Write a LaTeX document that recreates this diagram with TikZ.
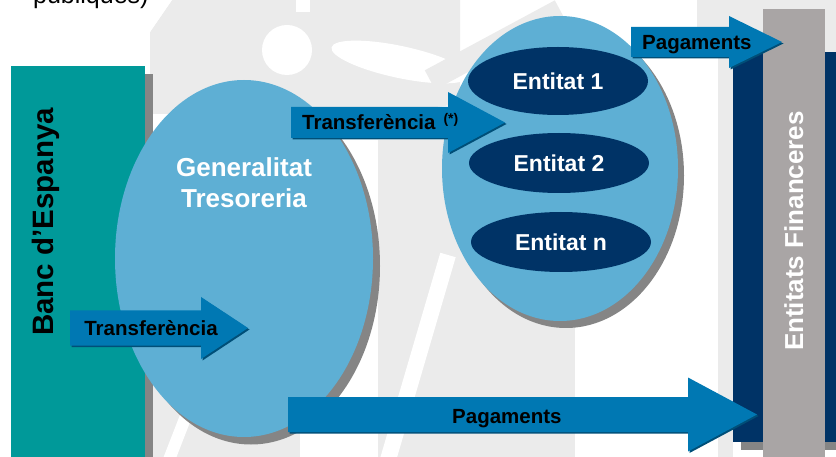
\documentclass[tikz,border=0pt]{standalone}
\usepackage{fontspec}
\setmainfont{Liberation Sans}
\usetikzlibrary{shapes.geometric}

\definecolor{bancteal}{HTML}{009999}
\definecolor{tresblue}{HTML}{5EAFD4}
\definecolor{entnavy}{HTML}{003366}
\definecolor{flowblue}{HTML}{0078B3}
\definecolor{flowdark}{HTML}{004F78}
\definecolor{shadegray}{HTML}{858585}
\definecolor{fingray}{HTML}{A9A5A5}
\definecolor{wmarkgray}{HTML}{EBEBEB}

% block arrow: left x, neck x, tip x, mid y, half body, half head
\newcommand{\flowarrow}[6]{%
  \foreach \sh/\col in {1.5/flowdark,0/flowblue}
    \fill[\col] ({#1+\sh},{#4-#5+\sh}) -- ({#2+\sh},{#4-#5+\sh}) -- ({#2+\sh},{#4-#6+\sh})
      -- ({#3+\sh},{#4+\sh}) -- ({#2+\sh},{#4+#6+\sh}) -- ({#2+\sh},{#4+#5+\sh})
      -- ({#1+\sh},{#4+#5+\sh}) -- cycle;
}

\begin{document}
\begin{tikzpicture}[x=1pt, y=-1pt,
    flowtext/.style={font=\bfseries\fontsize{20.5}{24}\selectfont, inner sep=0pt},
    sidetitle/.style={font=\bfseries\fontsize{29.5}{34}\selectfont, inner sep=0pt, rotate=90, anchor=base},
    entity/.style={ellipse, fill=entnavy, text=white, inner sep=0pt, minimum width=180pt,
      font=\bfseries\fontsize{23}{27}\selectfont}]
  \clip (0,0) rectangle (836,457);

  % watermark
  \fill[wmarkgray] (150,32) -- (172,0) -- (460,0) -- (460,104) -- (380,114) -- (150,114) -- cycle;
  \fill[white] (287,50) circle (25);
  \fill[white, rotate around={-12:(400,62)}] (400,62) ellipse [x radius=70, y radius=16];
  \fill[white] (296,0) rectangle (310,12);
  \fill[white] (140,0) -- (172,0) -- (150,32) -- (140,32) -- cycle;
  \draw[wmarkgray, line width=22pt] (430,80) -- (560,10);
  \fill[wmarkgray] (378,140) rectangle (575,457);
  \draw[white, line width=16pt] (385,470) -- (448,255);
  \fill[wmarkgray] (153,360) rectangle (300,457);
  \draw[white, line width=12pt] (165,470) -- (200,380);
  \fill[wmarkgray] (718,0) rectangle (733,457);
  \fill[wmarkgray] (697,0) rectangle (836,52);

  % Banc d'Espanya
  \fill[shadegray] (19,74) rectangle (153,465);
  \node[fill=bancteal, minimum width=134pt, minimum height=391pt, inner sep=0pt, anchor=north west] (banc) at (11,66) {};
  \node[sidetitle] (bancTxt) at (53,222) {Banc d’Espanya};

  % Generalitat
  \fill[shadegray] (251,266) ellipse [x radius=129, y radius=178.5];
  \node[ellipse, fill=tresblue, minimum width=258pt, minimum height=357pt, inner sep=0pt] (gen) at (244,258.5) {};
  \node[font=\bfseries\fontsize{26}{31}\selectfont, text=white, align=center, anchor=north, inner sep=0pt] (genTxt) at (244,157) {Generalitat\\Tresoreria};

  % Entitats Financeres
  \fill[shadegray] (741,60) rectangle (844,450);
  \fill[entnavy] (733,52) rectangle (836,442);
  \node[fill=fingray, minimum width=62pt, minimum height=448pt, inner sep=0pt, anchor=north west] (fin) at (763,9) {};
  \node[sidetitle, font=\bfseries\fontsize{26}{32}\selectfont, text=white] (finTxt) at (803,231) {Entitats Financeres};

  % Entitats
  \fill[shadegray] (566,175.5) ellipse [x radius=118, y radius=152.5];
  \node[ellipse, fill=tresblue, minimum width=236pt, minimum height=305pt, inner sep=0pt] (ent) at (560,168.5) {};
  \node[entity, minimum height=68pt] (ent1) at (558,81) {Entitat 1};
  \node[entity, minimum height=60pt] (ent2) at (559,163) {Entitat 2};
  \node[entity, minimum height=60pt] (entn) at (561,242) {Entitat n};

  % arrows
  \flowarrow{70}{201}{248}{328}{17.5}{31}
  \node[flowtext, anchor=base] (trans1) at (151,336) {Transferència};
  \flowarrow{291}{448}{505}{122.5}{15.5}{30.5}
  \node[flowtext, anchor=base west] (trans2) at (302,130) {Transferència\hspace{8pt}\raisebox{6pt}{\fontsize{14}{14}\selectfont(*)}};
  \flowarrow{631}{729}{782}{42}{15}{26}
  \node[flowtext, anchor=base west] (pag1) at (642,50) {Pagaments};
  \flowarrow{288}{688}{757}{414.5}{17.5}{37}
  \node[flowtext, anchor=base west] (pag2) at (452,423) {Pagaments};

  % heading, cut at the top
  \node[font=\fontsize{25}{30}\selectfont, anchor=base west, inner sep=0pt] (heading) at (33,4) {públiques)};
\end{tikzpicture}
\end{document}
